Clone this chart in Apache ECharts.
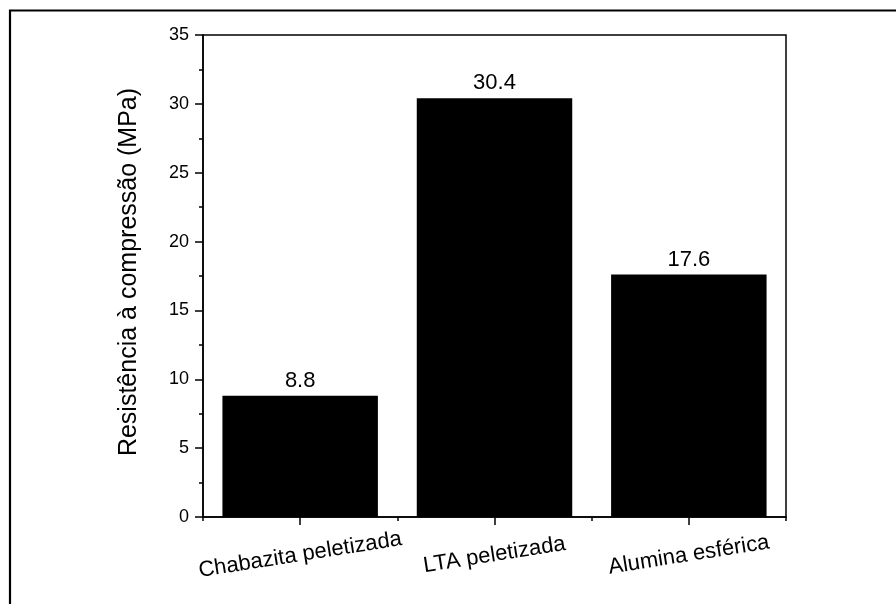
<!DOCTYPE html>
<html>
<head>
<meta charset="utf-8">
<script src="https://cdn.jsdelivr.net/npm/echarts@6/dist/echarts.min.js"></script>
<style>
  html, body { margin: 0; padding: 0; background: #fff; }
  #chart { width: 896px; height: 604px; }
</style>
</head>
<body>
<div id="chart"></div>
<script>
  // dados
  var categorias = ['Chabazita peletizada', 'LTA peletizada', 'Alumina esférica'];
  var resistencia = [8.8, 30.4, 17.6];
  var eixoY = { min: 0, max: 35, interval: 5 };
  var nomeEixoY = 'Resistência à compressão (MPa)';

  var fonte = 'Arial, "Liberation Sans", sans-serif';
  var chart = echarts.init(document.getElementById('chart'));

  var option = {
    backgroundColor: '#fff',
    animation: false,
    textStyle: { fontFamily: fonte, color: '#000' },
    grid: {
      left: 203, right: 110, top: 35, bottom: 87,
      show: true,
      borderColor: '#000',
      borderWidth: 1.5,
      backgroundColor: 'transparent'
    },
    graphic: [{
      type: 'rect',
      shape: { x: 10, y: 10.5, width: 1000, height: 1000 },
      style: { fill: 'none', stroke: '#000', lineWidth: 2.2 },
      silent: true
    }],
    xAxis: [{
      type: 'category',
      data: categorias,
      boundaryGap: true,
      axisLine: { lineStyle: { color: '#000', width: 1.5 } },
      axisTick: { show: true, alignWithLabel: true, length: 8, lineStyle: { color: '#000', width: 1.5 } },
      axisLabel: {
        color: '#000',
        fontFamily: fonte,
        fontSize: 22,
        rotate: 9,
        align: 'center',
        verticalAlign: 'middle',
        margin: 38
      },
      splitLine: { show: false }
    }, {
      type: 'category',
      data: categorias,
      position: 'bottom',
      boundaryGap: true,
      axisLine: { show: false },
      axisTick: { show: true, alignWithLabel: false, length: 4, lineStyle: { color: '#000', width: 1.5 } },
      axisLabel: { show: false },
      splitLine: { show: false }
    }],
    yAxis: {
      type: 'value',
      min: eixoY.min,
      max: eixoY.max,
      interval: eixoY.interval,
      name: nomeEixoY,
      nameLocation: 'middle',
      nameGap: 61,
      nameTextStyle: { color: '#000', fontSize: 25, fontFamily: fonte, padding: [0, 0, 0, 8] },
      axisLine: { show: true, lineStyle: { color: '#000', width: 1.5 } },
      axisTick: { show: true, length: 8, lineStyle: { color: '#000', width: 1.5 } },
      minorTick: { show: true, splitNumber: 2, length: 4, lineStyle: { color: '#000', width: 1.5 } },
      axisLabel: { color: '#000', fontSize: 18, fontFamily: fonte, margin: 14 },
      splitLine: { show: false }
    },
    series: [{
      type: 'bar',
      data: resistencia,
      barWidth: '80%',
      itemStyle: { color: '#000' },
      label: {
        show: true,
        position: 'top',
        distance: 4,
        color: '#000',
        fontSize: 22,
        fontFamily: fonte,
        formatter: function (p) { return p.value.toFixed(1); }
      }
    }]
  };

  chart.setOption(option);
</script>
</body>
</html>
